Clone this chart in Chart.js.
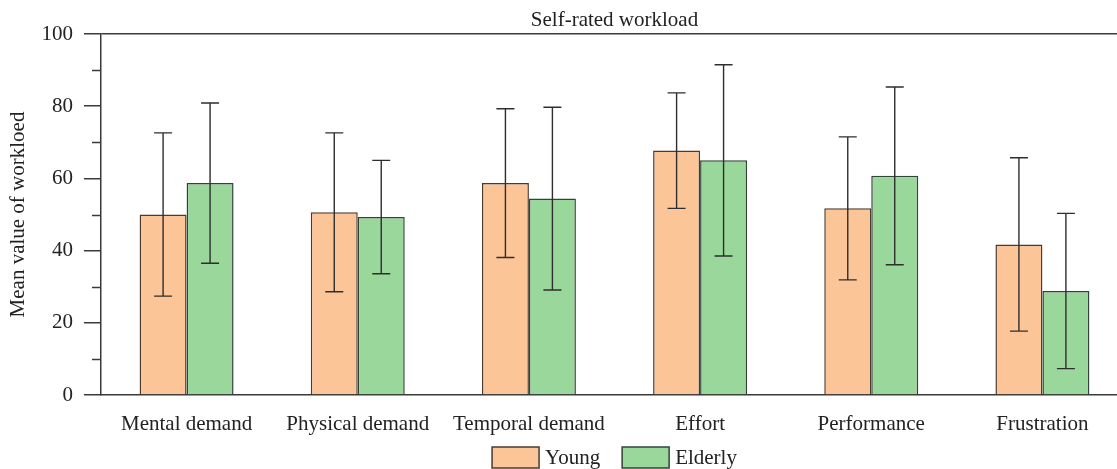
<!DOCTYPE html>
<html>
<head>
<meta charset="utf-8">
<script src="https://cdn.jsdelivr.net/npm/chart.js@4/dist/chart.umd.min.js"></script>
<style>
  html, body { margin: 0; padding: 0; background: #ffffff; overflow: hidden; }
  #wrap { position: relative; width: 1130px; height: 469px; }
</style>
</head>
<body>
<div id="wrap"><canvas id="chart" width="1130" height="469"></canvas></div>
<script>
// NASA-TLX style subscales
const categories = ['Mental demand', 'Physical demand', 'Temporal demand', 'Effort', 'Performance', 'Frustration'];

// Mean ratings and standard deviations per group
const youngMean = [50.0, 50.6, 58.7, 67.7, 51.7, 41.7];
const youngSD = [22.6, 22.0, 20.6, 16.0, 19.8, 24.0];
const elderlyMean = [58.7, 49.3, 54.4, 65.0, 60.7, 28.8];
const elderlySD = [22.2, 15.7, 25.3, 26.5, 24.6, 21.5];

// Y axis ticks: labelled majors and unlabelled minors
const yTicks = [0, 10, 20, 30, 40, 50, 60, 70, 80, 90, 100];
const yLabelled = [0, 20, 40, 60, 80, 100];

const FONT = 'Liberation Serif, "Times New Roman", serif';
const INK = '#222222';
const AXIS = '#3a3a3a';

const errorBars = {
  id: 'errorBars',
  afterDatasetsDraw(chart) {
    const ctx = chart.ctx;
    const y = chart.scales.y;
    ctx.save();
    ctx.strokeStyle = '#2e2e2e';
    ctx.lineWidth = 1.4;
    chart.data.datasets.forEach((ds, di) => {
      const meta = chart.getDatasetMeta(di);
      meta.data.forEach((bar, i) => {
        const m = ds.data[i], s = ds.sd[i];
        const top = y.getPixelForValue(m + s);
        const bot = y.getPixelForValue(m - s);
        const half = 9;
        ctx.beginPath();
        ctx.moveTo(bar.x, top); ctx.lineTo(bar.x, bot);
        ctx.moveTo(bar.x - half, top); ctx.lineTo(bar.x + half, top);
        ctx.moveTo(bar.x - half, bot); ctx.lineTo(bar.x + half, bot);
        ctx.stroke();
      });
    });
    ctx.restore();
  }
};

const minorTicks = {
  id: 'minorTicks',
  afterDraw(chart) {
    const ctx = chart.ctx;
    const y = chart.scales.y;
    const left = chart.chartArea.left;
    ctx.save();
    ctx.strokeStyle = AXIS;
    ctx.lineWidth = 1.5;
    yTicks.filter(v => !yLabelled.includes(v)).forEach(v => {
      const py = Math.round(y.getPixelForValue(v)) + 0.5;
      ctx.beginPath();
      ctx.moveTo(left - 9, py);
      ctx.lineTo(left, py);
      ctx.stroke();
    });
    ctx.restore();
  }
};

// Legend row under the axis, centred on the plot area
const groupLegend = {
  id: 'groupLegend',
  afterDraw(chart) {
    const ctx = chart.ctx;
    const area = chart.chartArea;
    const boxW = 47, boxH = 21, textGap = 6, itemGap = 22;
    ctx.save();
    ctx.font = '21px ' + FONT;
    ctx.textBaseline = 'middle';
    ctx.textAlign = 'left';
    const items = chart.data.datasets.map(ds => ({
      ds, w: boxW + textGap + ctx.measureText(ds.label).width
    }));
    const total = items.reduce((a, it) => a + it.w, 0) + itemGap * (items.length - 1);
    let x = (area.left + area.right) / 2 - total / 2;
    const top = area.bottom + 52;
    items.forEach(it => {
      ctx.fillStyle = it.ds.backgroundColor;
      ctx.fillRect(x, top, boxW, boxH);
      ctx.strokeStyle = it.ds.borderColor;
      ctx.lineWidth = 1.5;
      ctx.strokeRect(x, top, boxW, boxH);
      ctx.fillStyle = INK;
      ctx.fillText(it.ds.label, x + boxW + textGap, top + boxH / 2 + 1);
      x += it.w + itemGap;
    });
    ctx.restore();
  }
};

new Chart(document.getElementById('chart'), {
  type: 'bar',
  data: {
    labels: categories,
    datasets: [
      {
        label: 'Young',
        data: youngMean,
        sd: youngSD,
        backgroundColor: '#fcc597',
        borderColor: '#4a3b30',
        borderWidth: 1.5,
        categoryPercentage: 0.549,
        barPercentage: 1.0
      },
      {
        label: 'Elderly',
        data: elderlyMean,
        sd: elderlySD,
        backgroundColor: '#99d79b',
        borderColor: '#34433a',
        borderWidth: 1.5,
        categoryPercentage: 0.549,
        barPercentage: 1.0
      }
    ]
  },
  options: {
    responsive: false,
    animation: false,
    devicePixelRatio: 1,
    layout: { padding: { left: 0, right: 2, top: 0, bottom: 14.8 } },
    plugins: {
      title: {
        display: true,
        text: 'Self-rated workload',
        fullSize: false,
        color: INK,
        font: { family: FONT, size: 21, weight: 'normal' },
        padding: { top: 8, bottom: 0.8 }
      },
      legend: { display: false },
      tooltip: { enabled: false }
    },
    scales: {
      x: {
        offset: true,
        grid: { display: false, drawTicks: false },
        border: { display: true, color: AXIS, width: 1.5 },
        ticks: {
          color: INK,
          font: { family: FONT, size: 21 },
          padding: 17,
          maxRotation: 0,
          autoSkip: false
        }
      },
      y: {
        min: 0,
        max: 100,
        afterFit(scale) { scale.width = 101; },
        afterBuildTicks(scale) { scale.ticks = yTicks.map(v => ({ value: v })); },
        title: {
          display: true,
          text: 'Mean value of workloed',
          color: INK,
          font: { family: FONT, size: 21 },
          padding: { top: 6, bottom: 0 }
        },
        border: { display: true, color: AXIS, width: 1.5 },
        grid: {
          drawOnChartArea: true,
          drawTicks: true,
          tickLength: 17,
          lineWidth: 1.5,
          color: (c) => (c.tick && c.tick.value === 100 ? AXIS : 'rgba(0,0,0,0)'),
          tickColor: (c) => (c.tick && yLabelled.includes(c.tick.value) ? AXIS : 'rgba(0,0,0,0)')
        },
        ticks: {
          color: INK,
          font: { family: FONT, size: 21 },
          padding: 11,
          callback: (v) => (yLabelled.includes(v) ? String(v) : '')
        }
      }
    }
  },
  plugins: [errorBars, minorTicks, groupLegend]
});
</script>
</body>
</html>
